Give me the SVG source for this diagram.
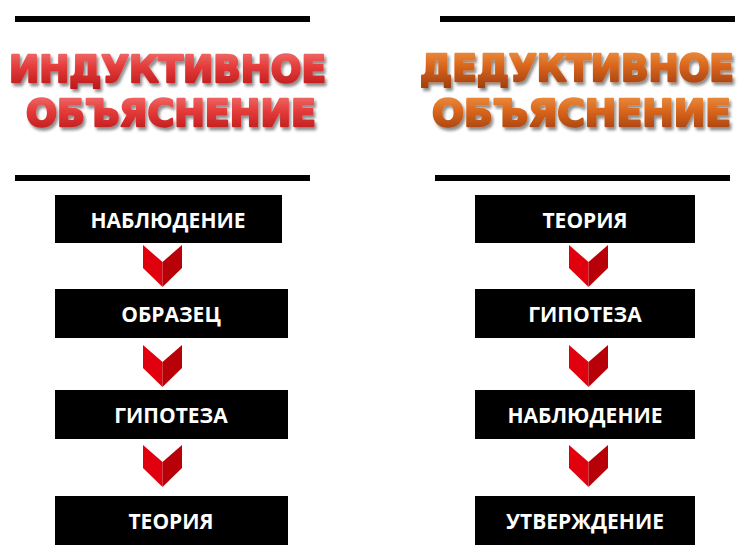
<svg xmlns="http://www.w3.org/2000/svg" width="750" height="559" viewBox="0 0 750 559">
<defs>
<linearGradient id="gRed" x1="0" y1="0" x2="0" y2="1">
<stop offset="0" stop-color="#f27a78"/>
<stop offset="0.45" stop-color="#e43c3a"/>
<stop offset="1" stop-color="#b81416"/>
</linearGradient>
<linearGradient id="gOrange" x1="0" y1="0" x2="0" y2="1">
<stop offset="0" stop-color="#f09a4a"/>
<stop offset="0.45" stop-color="#d9661c"/>
<stop offset="1" stop-color="#9a3a0c"/>
</linearGradient>
<filter id="sh" x="-5%" y="-30%" width="110%" height="170%">
<feGaussianBlur in="SourceAlpha" stdDeviation="1.5"/>
<feOffset dx="2" dy="3" result="b"/>
<feComponentTransfer><feFuncA type="linear" slope="0.45"/></feComponentTransfer>
<feMerge><feMergeNode/><feMergeNode in="SourceGraphic"/></feMerge>
</filter>
<g id="chev">
<polygon points="0,0 19.5,17 19.5,42 0,23" fill="#e0000e"/>
<polygon points="19.5,17 39,0 39,23 19.5,42" fill="#b80008"/>
</g>
</defs>
<style>
.rule{fill:#000}
.title{font-family:"DejaVu Sans",sans-serif;font-weight:bold;font-size:38px;stroke-width:2.4;stroke-linejoin:round;filter:url(#sh)}
.red{fill:url(#gRed);stroke:url(#gRed)}
.orange{fill:url(#gOrange);stroke:url(#gOrange)}
.box{fill:#000}
.lbl{font-family:"Open Sans","DejaVu Sans",sans-serif;font-weight:bold;font-size:21px;fill:#fff;text-anchor:middle}
</style>
<rect width="750" height="559" fill="#fff"/>
<g id="rules">
<rect class="rule" x="15" y="16" width="295" height="6"/>
<rect class="rule" x="15" y="175" width="295" height="6"/>
<rect class="rule" x="440" y="16" width="295" height="6"/>
<rect class="rule" x="435" y="175" width="295" height="6"/>
</g>
<g id="title-inductive">
<text class="title red" x="9" y="82" textLength="317" lengthAdjust="spacingAndGlyphs">ИНДУКТИВНОЕ</text>
<text class="title red" x="26" y="126" textLength="290" lengthAdjust="spacingAndGlyphs">ОБЪЯСНЕНИЕ</text>
</g>
<g id="title-deductive">
<text class="title orange" x="420" y="81" textLength="314" lengthAdjust="spacingAndGlyphs">ДЕДУКТИВНОЕ</text>
<text class="title orange" x="432" y="126" textLength="299" lengthAdjust="spacingAndGlyphs">ОБЪЯСНЕНИЕ</text>
</g>
<g id="l1"><rect class="box" x="55" y="195" width="227" height="48"/><text class="lbl" x="168" y="228">НАБЛЮДЕНИЕ</text></g>
<g id="l2"><rect class="box" x="55" y="289" width="233" height="49"/><text class="lbl" x="171" y="322">ОБРАЗЕЦ</text></g>
<g id="l3"><rect class="box" x="55" y="390" width="233" height="49"/><text class="lbl" x="171" y="423">ГИПОТЕЗА</text></g>
<g id="l4"><rect class="box" x="55" y="496" width="233" height="49"/><text class="lbl" x="171" y="529">ТЕОРИЯ</text></g>
<g id="r1"><rect class="box" x="475" y="195" width="220" height="48"/><text class="lbl" x="585" y="228">ТЕОРИЯ</text></g>
<g id="r2"><rect class="box" x="475" y="289" width="220" height="49"/><text class="lbl" x="585" y="322">ГИПОТЕЗА</text></g>
<g id="r3"><rect class="box" x="475" y="390" width="220" height="49"/><text class="lbl" x="585" y="423">НАБЛЮДЕНИЕ</text></g>
<g id="r4"><rect class="box" x="475" y="496" width="220" height="49"/><text class="lbl" x="585" y="529">УТВЕРЖДЕНИЕ</text></g>
<g id="connectors">
<use href="#chev" x="143" y="245"/>
<use href="#chev" x="143" y="345"/>
<use href="#chev" x="143" y="445"/>
<use href="#chev" x="569" y="245"/>
<use href="#chev" x="569" y="345"/>
<use href="#chev" x="569" y="445"/>
</g>
</svg>
